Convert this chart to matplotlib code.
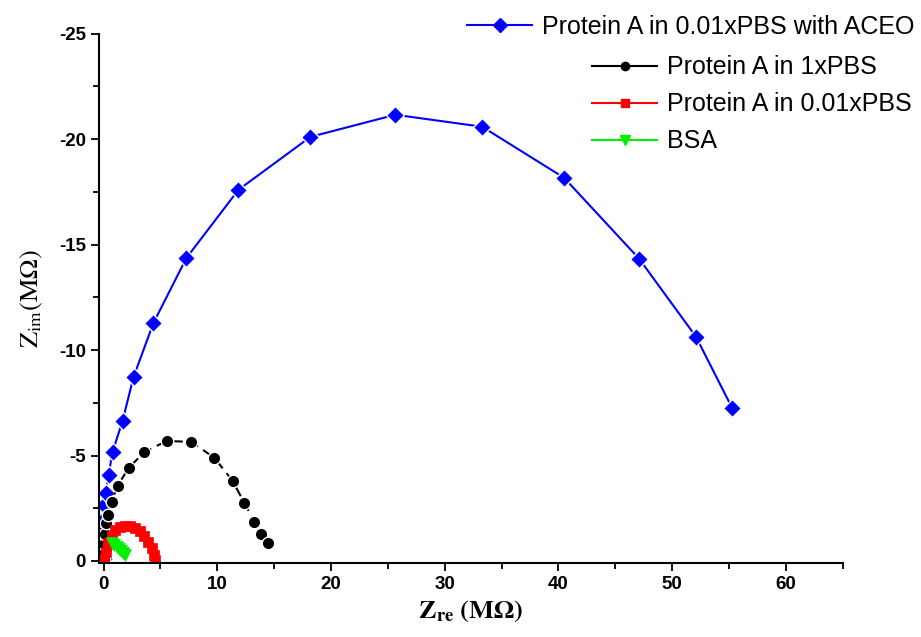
import matplotlib
matplotlib.use('Agg')
import matplotlib.pyplot as plt
from matplotlib.ticker import MultipleLocator
from matplotlib.lines import Line2D

plt.rcParams['font.family'] = ['Liberation Sans', 'DejaVu Sans']
plt.rcParams['axes.unicode_minus'] = False
plt.rcParams['mathtext.fontset'] = 'stix'

# Nyquist data (MOhm)
aceo_re = [0.0, 0.01, 0.02, 0.03, 0.04, 0.06, 0.18, 0.44, 0.79, 1.67, 2.64, 4.39,
           7.29, 11.86, 18.19, 25.66, 33.3, 40.5, 47.1, 52.1, 55.27]
aceo_im = [-0.1, -0.5, -0.9, -1.4, -2.0, -2.65, -3.23, -4.08, -5.17, -6.64, -8.73, -11.29,
           -14.37, -17.6, -20.11, -21.16, -20.59, -18.17, -14.33, -10.63, -7.26]

pbs1_re = [0.0, 0.04, 0.08, 0.15, 0.25, 0.35, 0.70, 1.23, 2.20, 3.60, 5.54, 7.73,
           9.75, 11.34, 12.39, 13.27, 13.88, 14.50]
pbs1_im = [-0.05, -0.4, -0.8, -1.3, -1.8, -2.18, -2.80, -3.56, -4.41, -5.17, -5.69, -5.65,
           -4.89, -3.80, -2.75, -1.85, -1.28, -0.85]

pbs001_re = [0.05, 0.2, 0.4, 0.7, 1.05, 1.45, 1.9, 2.35, 2.8, 3.2, 3.6, 3.95, 4.25, 4.45, 4.5]
pbs001_im = [-0.1, -0.45, -0.85, -1.2, -1.45, -1.6, -1.67, -1.66, -1.58, -1.42, -1.2, -0.92,
             -0.6, -0.3, -0.05]

bsa_re = [0.75, 0.95, 1.15, 1.35, 1.55, 1.75, 1.9]
bsa_im = [-0.85, -0.75, -0.66, -0.56, -0.46, -0.36, -0.28]

labels = ['Protein A in 0.01xPBS with ACEO', 'Protein A in 1xPBS',
          'Protein A in 0.01xPBS', 'BSA']

fig = plt.figure(figsize=(9.21, 6.37), dpi=100)
ax = fig.add_axes([0.1075, 0.116, 0.8075, 0.831])

ax.plot(aceo_re, aceo_im, '-', color='#0000ff', lw=1.5, marker='D', ms=9,
        mfc='#0000ff', mec='white', mew=1.0)
ax.plot(pbs1_re, pbs1_im, '--', color='black', lw=1.5, marker='o', ms=9,
        mfc='black', mec='white', mew=1.0, dashes=(5, 3))
ax.plot(pbs001_re, pbs001_im, '-', color='#ff0000', lw=1.5, marker='s', ms=7.5,
        mfc='#ff0000', mec='#ff0000', mew=0.5)
ax.plot(bsa_re, bsa_im, '-', color='#00ee00', lw=1.5, marker='v', ms=8,
        mfc='#00ee00', mec='#00ee00', mew=0.5)

ax.set_xlim(-0.4, 65)
ax.set_ylim(0.1, -25)

ax.xaxis.set_major_locator(MultipleLocator(10))
ax.xaxis.set_minor_locator(MultipleLocator(5))
ax.yaxis.set_major_locator(MultipleLocator(5))
ax.yaxis.set_minor_locator(MultipleLocator(2.5))
ax.tick_params(which='major', length=6, width=1.3, direction='out')
ax.tick_params(which='minor', length=4, width=1.3, direction='out')
ax.tick_params(labelsize=13.5)
for t in ax.get_xticklabels() + ax.get_yticklabels():
    t.set_fontweight('bold')

for s in ['top', 'right']:
    ax.spines[s].set_visible(False)
for s in ['left', 'bottom']:
    ax.spines[s].set_linewidth(1.5)

ax.set_xlabel(r'$\mathbf{Z_{re}\ (M\Omega)}$', fontsize=19, labelpad=4)
ax.set_ylabel(r'$\mathrm{Z_{im}(M\Omega)}$', fontsize=19, labelpad=10)

h = lambda c, m, ms: Line2D([], [], color=c, lw=1.5, marker=m, ms=ms, mfc=c, mec=c)
leg1 = ax.legend([h('#0000ff', 'D', 7)], [labels[0]], loc='upper right',
                 bbox_to_anchor=(1.11, 1.055), frameon=False, fontsize=18,
                 handlelength=2.6, handletextpad=0.4, borderaxespad=0)
ax.add_artist(leg1)
ax.legend([h('black', 'o', 6), h('#ff0000', 's', 6), h('#00ee00', 'v', 7)], labels[1:],
          loc='upper left', bbox_to_anchor=(0.65, 0.978), frameon=False, fontsize=18,
          handlelength=2.6, handletextpad=0.4, labelspacing=0.52, borderaxespad=0)

fig.savefig('out.png', dpi=100)
